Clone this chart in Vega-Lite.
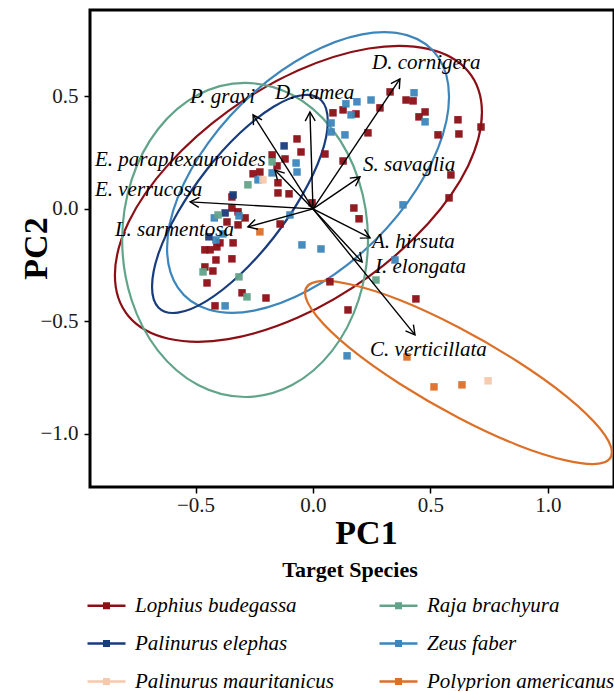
{
  "$schema": "https://vega.github.io/schema/vega-lite/v6.json",
  "width": 524,
  "height": 477,
  "autosize": {"type": "none"},
  "padding": {"left": 90, "top": 10, "right": 0, "bottom": 204},
  "background": "white",
  "config": {
    "view": {"stroke": "black", "strokeWidth": 3},
    "font": "Liberation Serif",
    "axis": {
      "grid": false,
      "domain": false,
      "tickColor": "black",
      "tickWidth": 1.5,
      "tickSize": 6,
      "labelFont": "Liberation Serif",
      "labelFontSize": 21,
      "labelColor": "#1a1a1a",
      "titleFont": "Liberation Serif",
      "titleFontSize": 34,
      "titleFontWeight": "bold",
      "titleColor": "black"
    },
    "legend": {
      "orient": "none",
      "legendX": -4,
      "legendY": 550,
      "columns": 2,
      "columnPadding": 40,
      "rowPadding": 7,
      "symbolType": "M-1,0H1M-0.12,-0.12H0.12V0.12H-0.12Z",
      "symbolSize": 1444,
      "symbolStrokeWidth": 2.5,
      "labelFont": "Liberation Serif",
      "labelFontStyle": "italic",
      "labelFontSize": 21,
      "labelColor": "black",
      "labelOffset": 8,
      "labelLimit": 400,
      "titleFont": "Liberation Serif",
      "titleFontSize": 22,
      "titleFontWeight": "bold",
      "titleColor": "black",
      "titleAnchor": "middle",
      "titlePadding": 3
    }
  },
  "datasets": {
    "scores": [
      {"species": "Lophius budegassa", "PC1": 0.328, "PC2": 0.520},
      {"species": "Lophius budegassa", "PC1": 0.396, "PC2": 0.484},
      {"species": "Lophius budegassa", "PC1": 0.426, "PC2": 0.480},
      {"species": "Lophius budegassa", "PC1": 0.477, "PC2": 0.431},
      {"species": "Lophius budegassa", "PC1": 0.451, "PC2": 0.409},
      {"species": "Lophius budegassa", "PC1": 0.617, "PC2": 0.396},
      {"species": "Lophius budegassa", "PC1": 0.715, "PC2": 0.364},
      {"species": "Lophius budegassa", "PC1": 0.621, "PC2": 0.333},
      {"species": "Lophius budegassa", "PC1": 0.532, "PC2": 0.329},
      {"species": "Lophius budegassa", "PC1": 0.285, "PC2": 0.449},
      {"species": "Lophius budegassa", "PC1": 0.183, "PC2": 0.422},
      {"species": "Lophius budegassa", "PC1": 0.128, "PC2": 0.440},
      {"species": "Lophius budegassa", "PC1": 0.085, "PC2": 0.427},
      {"species": "Lophius budegassa", "PC1": 0.234, "PC2": 0.338},
      {"species": "Lophius budegassa", "PC1": 0.051, "PC2": 0.244},
      {"species": "Lophius budegassa", "PC1": 0.128, "PC2": 0.213},
      {"species": "Lophius budegassa", "PC1": -0.068, "PC2": 0.311},
      {"species": "Lophius budegassa", "PC1": -0.051, "PC2": 0.253},
      {"species": "Lophius budegassa", "PC1": -0.119, "PC2": 0.222},
      {"species": "Lophius budegassa", "PC1": -0.153, "PC2": 0.191},
      {"species": "Lophius budegassa", "PC1": -0.149, "PC2": 0.116},
      {"species": "Lophius budegassa", "PC1": -0.149, "PC2": 0.071},
      {"species": "Lophius budegassa", "PC1": -0.102, "PC2": 0.067},
      {"species": "Lophius budegassa", "PC1": -0.004, "PC2": 0.027},
      {"species": "Lophius budegassa", "PC1": 0.587, "PC2": 0.151},
      {"species": "Lophius budegassa", "PC1": 0.579, "PC2": 0.049},
      {"species": "Lophius budegassa", "PC1": 0.174, "PC2": 0.004},
      {"species": "Lophius budegassa", "PC1": 0.196, "PC2": -0.044},
      {"species": "Lophius budegassa", "PC1": -0.174, "PC2": 0.240},
      {"species": "Lophius budegassa", "PC1": -0.255, "PC2": 0.156},
      {"species": "Lophius budegassa", "PC1": -0.226, "PC2": 0.164},
      {"species": "Lophius budegassa", "PC1": -0.345, "PC2": 0.053},
      {"species": "Lophius budegassa", "PC1": -0.345, "PC2": 0.004},
      {"species": "Lophius budegassa", "PC1": -0.319, "PC2": -0.013},
      {"species": "Lophius budegassa", "PC1": -0.366, "PC2": -0.058},
      {"species": "Lophius budegassa", "PC1": -0.289, "PC2": -0.040},
      {"species": "Lophius budegassa", "PC1": -0.140, "PC2": -0.067},
      {"species": "Lophius budegassa", "PC1": -0.319, "PC2": -0.071},
      {"species": "Lophius budegassa", "PC1": -0.340, "PC2": -0.151},
      {"species": "Lophius budegassa", "PC1": -0.460, "PC2": -0.182},
      {"species": "Lophius budegassa", "PC1": -0.438, "PC2": -0.182},
      {"species": "Lophius budegassa", "PC1": -0.409, "PC2": -0.169},
      {"species": "Lophius budegassa", "PC1": -0.396, "PC2": -0.151},
      {"species": "Lophius budegassa", "PC1": -0.413, "PC2": -0.227},
      {"species": "Lophius budegassa", "PC1": -0.345, "PC2": -0.222},
      {"species": "Lophius budegassa", "PC1": -0.460, "PC2": -0.258},
      {"species": "Lophius budegassa", "PC1": -0.426, "PC2": -0.276},
      {"species": "Lophius budegassa", "PC1": -0.451, "PC2": -0.329},
      {"species": "Lophius budegassa", "PC1": -0.302, "PC2": -0.373},
      {"species": "Lophius budegassa", "PC1": -0.200, "PC2": -0.396},
      {"species": "Lophius budegassa", "PC1": -0.417, "PC2": -0.431},
      {"species": "Lophius budegassa", "PC1": 0.072, "PC2": -0.324},
      {"species": "Lophius budegassa", "PC1": 0.149, "PC2": -0.449},
      {"species": "Lophius budegassa", "PC1": 0.438, "PC2": -0.400},
      {"species": "Zeus faber", "PC1": 0.430, "PC2": 0.516},
      {"species": "Zeus faber", "PC1": 0.477, "PC2": 0.387},
      {"species": "Zeus faber", "PC1": 0.140, "PC2": 0.467},
      {"species": "Zeus faber", "PC1": 0.187, "PC2": 0.476},
      {"species": "Zeus faber", "PC1": 0.247, "PC2": 0.484},
      {"species": "Zeus faber", "PC1": 0.162, "PC2": 0.418},
      {"species": "Zeus faber", "PC1": 0.077, "PC2": 0.382},
      {"species": "Zeus faber", "PC1": 0.077, "PC2": 0.342},
      {"species": "Zeus faber", "PC1": 0.136, "PC2": 0.329},
      {"species": "Zeus faber", "PC1": 0.383, "PC2": 0.018},
      {"species": "Zeus faber", "PC1": -0.072, "PC2": 0.204},
      {"species": "Zeus faber", "PC1": -0.068, "PC2": 0.164},
      {"species": "Zeus faber", "PC1": -0.174, "PC2": 0.160},
      {"species": "Zeus faber", "PC1": -0.234, "PC2": 0.129},
      {"species": "Zeus faber", "PC1": -0.315, "PC2": -0.031},
      {"species": "Zeus faber", "PC1": -0.098, "PC2": -0.027},
      {"species": "Zeus faber", "PC1": -0.420, "PC2": -0.040},
      {"species": "Zeus faber", "PC1": -0.383, "PC2": -0.111},
      {"species": "Zeus faber", "PC1": -0.374, "PC2": -0.431},
      {"species": "Zeus faber", "PC1": -0.047, "PC2": -0.160},
      {"species": "Zeus faber", "PC1": 0.034, "PC2": -0.178},
      {"species": "Zeus faber", "PC1": 0.145, "PC2": -0.653},
      {"species": "Zeus faber", "PC1": 0.349, "PC2": -0.227},
      {"species": "Zeus faber", "PC1": -0.413, "PC2": -0.138},
      {"species": "Palinurus elephas", "PC1": -0.123, "PC2": 0.280},
      {"species": "Palinurus elephas", "PC1": -0.340, "PC2": 0.062},
      {"species": "Palinurus elephas", "PC1": -0.374, "PC2": -0.018},
      {"species": "Palinurus elephas", "PC1": -0.443, "PC2": -0.124},
      {"species": "Raja brachyura", "PC1": -0.277, "PC2": 0.107},
      {"species": "Raja brachyura", "PC1": -0.174, "PC2": 0.209},
      {"species": "Raja brachyura", "PC1": -0.404, "PC2": -0.027},
      {"species": "Raja brachyura", "PC1": -0.468, "PC2": -0.280},
      {"species": "Raja brachyura", "PC1": -0.315, "PC2": -0.302},
      {"species": "Raja brachyura", "PC1": -0.281, "PC2": -0.391},
      {"species": "Raja brachyura", "PC1": 0.268, "PC2": -0.316},
      {"species": "Palinurus mauritanicus", "PC1": -0.213, "PC2": 0.129},
      {"species": "Palinurus mauritanicus", "PC1": 0.745, "PC2": -0.764},
      {"species": "Polyprion americanus", "PC1": -0.226, "PC2": -0.102},
      {"species": "Polyprion americanus", "PC1": 0.400, "PC2": -0.658},
      {"species": "Polyprion americanus", "PC1": 0.515, "PC2": -0.791},
      {"species": "Polyprion americanus", "PC1": 0.634, "PC2": -0.782}
    ],
    "ellipses": [
      {"species": "Lophius budegassa", "k": 0, "x": 0.719, "y": 0.429},
      {"species": "Lophius budegassa", "k": 1, "x": 0.660, "y": 0.612},
      {"species": "Lophius budegassa", "k": 2, "x": 0.490, "y": 0.711},
      {"species": "Lophius budegassa", "k": 3, "x": 0.237, "y": 0.713},
      {"species": "Lophius budegassa", "k": 4, "x": -0.062, "y": 0.616},
      {"species": "Lophius budegassa", "k": 5, "x": -0.361, "y": 0.435},
      {"species": "Lophius budegassa", "k": 6, "x": -0.614, "y": 0.199},
      {"species": "Lophius budegassa", "k": 7, "x": -0.784, "y": -0.057},
      {"species": "Lophius budegassa", "k": 8, "x": -0.843, "y": -0.295},
      {"species": "Lophius budegassa", "k": 9, "x": -0.784, "y": -0.478},
      {"species": "Lophius budegassa", "k": 10, "x": -0.614, "y": -0.577},
      {"species": "Lophius budegassa", "k": 11, "x": -0.361, "y": -0.579},
      {"species": "Lophius budegassa", "k": 12, "x": -0.062, "y": -0.482},
      {"species": "Lophius budegassa", "k": 13, "x": 0.237, "y": -0.301},
      {"species": "Lophius budegassa", "k": 14, "x": 0.490, "y": -0.065},
      {"species": "Lophius budegassa", "k": 15, "x": 0.660, "y": 0.191},
      {"species": "Zeus faber", "k": 0, "x": 0.579, "y": 0.499},
      {"species": "Zeus faber", "k": 1, "x": 0.533, "y": 0.674},
      {"species": "Zeus faber", "k": 2, "x": 0.403, "y": 0.771},
      {"species": "Zeus faber", "k": 3, "x": 0.209, "y": 0.776},
      {"species": "Zeus faber", "k": 4, "x": -0.021, "y": 0.687},
      {"species": "Zeus faber", "k": 5, "x": -0.251, "y": 0.518},
      {"species": "Zeus faber", "k": 6, "x": -0.445, "y": 0.295},
      {"species": "Zeus faber", "k": 7, "x": -0.575, "y": 0.052},
      {"species": "Zeus faber", "k": 8, "x": -0.621, "y": -0.175},
      {"species": "Zeus faber", "k": 9, "x": -0.575, "y": -0.350},
      {"species": "Zeus faber", "k": 10, "x": -0.445, "y": -0.447},
      {"species": "Zeus faber", "k": 11, "x": -0.251, "y": -0.452},
      {"species": "Zeus faber", "k": 12, "x": -0.021, "y": -0.363},
      {"species": "Zeus faber", "k": 13, "x": 0.209, "y": -0.194},
      {"species": "Zeus faber", "k": 14, "x": 0.403, "y": 0.029},
      {"species": "Zeus faber", "k": 15, "x": 0.533, "y": 0.272},
      {"species": "Raja brachyura", "k": 0, "x": 0.234, "y": -0.138},
      {"species": "Raja brachyura", "k": 1, "x": 0.194, "y": 0.129},
      {"species": "Raja brachyura", "k": 2, "x": 0.081, "y": 0.355},
      {"species": "Raja brachyura", "k": 3, "x": -0.089, "y": 0.507},
      {"species": "Raja brachyura", "k": 4, "x": -0.289, "y": 0.560},
      {"species": "Raja brachyura", "k": 5, "x": -0.489, "y": 0.507},
      {"species": "Raja brachyura", "k": 6, "x": -0.659, "y": 0.355},
      {"species": "Raja brachyura", "k": 7, "x": -0.772, "y": 0.129},
      {"species": "Raja brachyura", "k": 8, "x": -0.812, "y": -0.138},
      {"species": "Raja brachyura", "k": 9, "x": -0.772, "y": -0.405},
      {"species": "Raja brachyura", "k": 10, "x": -0.659, "y": -0.631},
      {"species": "Raja brachyura", "k": 11, "x": -0.489, "y": -0.783},
      {"species": "Raja brachyura", "k": 12, "x": -0.289, "y": -0.836},
      {"species": "Raja brachyura", "k": 13, "x": -0.089, "y": -0.783},
      {"species": "Raja brachyura", "k": 14, "x": 0.081, "y": -0.631},
      {"species": "Raja brachyura", "k": 15, "x": 0.194, "y": -0.405},
      {"species": "Palinurus elephas", "k": 0, "x": 0.063, "y": 0.390},
      {"species": "Palinurus elephas", "k": 1, "x": 0.035, "y": 0.483},
      {"species": "Palinurus elephas", "k": 2, "x": -0.047, "y": 0.505},
      {"species": "Palinurus elephas", "k": 3, "x": -0.168, "y": 0.454},
      {"species": "Palinurus elephas", "k": 4, "x": -0.311, "y": 0.337},
      {"species": "Palinurus elephas", "k": 5, "x": -0.454, "y": 0.172},
      {"species": "Palinurus elephas", "k": 6, "x": -0.575, "y": -0.015},
      {"species": "Palinurus elephas", "k": 7, "x": -0.657, "y": -0.197},
      {"species": "Palinurus elephas", "k": 8, "x": -0.685, "y": -0.346},
      {"species": "Palinurus elephas", "k": 9, "x": -0.657, "y": -0.439},
      {"species": "Palinurus elephas", "k": 10, "x": -0.575, "y": -0.461},
      {"species": "Palinurus elephas", "k": 11, "x": -0.454, "y": -0.410},
      {"species": "Palinurus elephas", "k": 12, "x": -0.311, "y": -0.293},
      {"species": "Palinurus elephas", "k": 13, "x": -0.168, "y": -0.128},
      {"species": "Palinurus elephas", "k": 14, "x": -0.047, "y": 0.059},
      {"species": "Palinurus elephas", "k": 15, "x": 0.035, "y": 0.241},
      {"species": "Polyprion americanus", "k": 0, "x": 1.272, "y": -1.081},
      {"species": "Polyprion americanus", "k": 1, "x": 1.222, "y": -0.977},
      {"species": "Polyprion americanus", "k": 2, "x": 1.081, "y": -0.835},
      {"species": "Polyprion americanus", "k": 3, "x": 0.869, "y": -0.677},
      {"species": "Polyprion americanus", "k": 4, "x": 0.619, "y": -0.526},
      {"species": "Polyprion americanus", "k": 5, "x": 0.369, "y": -0.405},
      {"species": "Polyprion americanus", "k": 6, "x": 0.157, "y": -0.335},
      {"species": "Polyprion americanus", "k": 7, "x": 0.016, "y": -0.323},
      {"species": "Polyprion americanus", "k": 8, "x": -0.034, "y": -0.373},
      {"species": "Polyprion americanus", "k": 9, "x": 0.016, "y": -0.477},
      {"species": "Polyprion americanus", "k": 10, "x": 0.157, "y": -0.619},
      {"species": "Polyprion americanus", "k": 11, "x": 0.369, "y": -0.777},
      {"species": "Polyprion americanus", "k": 12, "x": 0.619, "y": -0.928},
      {"species": "Polyprion americanus", "k": 13, "x": 0.869, "y": -1.049},
      {"species": "Polyprion americanus", "k": 14, "x": 1.081, "y": -1.119},
      {"species": "Polyprion americanus", "k": 15, "x": 1.222, "y": -1.131}
    ],
    "loadings": [
      {"name": "P. gravi", "x": -0.255, "y": 0.418, "lx": -0.523, "ly": 0.498},
      {"name": "D. ramea", "x": -0.013, "y": 0.431, "lx": -0.162, "ly": 0.516},
      {"name": "D. cornigera", "x": 0.370, "y": 0.578, "lx": 0.251, "ly": 0.649},
      {"name": "S. savaglia", "x": 0.200, "y": 0.142, "lx": 0.213, "ly": 0.196},
      {"name": "E. paraplexauroides", "x": -0.162, "y": 0.173, "lx": -0.928, "ly": 0.218},
      {"name": "E. verrucosa", "x": -0.523, "y": 0.031, "lx": -0.928, "ly": 0.084},
      {"name": "L. sarmentosa", "x": -0.277, "y": -0.080, "lx": -0.843, "ly": -0.093},
      {"name": "A. hirsuta", "x": 0.243, "y": -0.129, "lx": 0.251, "ly": -0.147},
      {"name": "I. elongata", "x": 0.209, "y": -0.236, "lx": 0.264, "ly": -0.258},
      {"name": "C. verticillata", "x": 0.434, "y": -0.560, "lx": 0.243, "ly": -0.627}
    ]
  },
  "layer": [
    {
      "data": {"name": "ellipses"},
      "mark": {"type": "line", "interpolate": "cardinal-closed", "strokeWidth": 2.2},
      "encoding": {
        "x": {"field": "x", "type": "quantitative", "scale": {"domain": [-0.949, 1.281], "nice": false, "zero": false},
              "axis": {"values": [-0.5, 0, 0.5, 1], "format": ".1f", "title": "PC1", "labelPadding": 1, "titleX": 276, "titleY": 56, "titleBaseline": "alphabetic"}},
        "y": {"field": "y", "type": "quantitative", "scale": {"domain": [-1.236, 0.884], "nice": false, "zero": false},
              "axis": {"values": [-1, -0.5, 0, 0.5], "format": ".1f", "title": "PC2", "labelPadding": 6, "titleX": -44, "titleY": 238, "titleBaseline": "alphabetic"}},
        "color": {"field": "species", "type": "nominal",
                  "scale": {"domain": ["Lophius budegassa", "Palinurus elephas", "Palinurus mauritanicus", "Raja brachyura", "Zeus faber", "Polyprion americanus"],
                            "range": ["#8C0F16", "#183C7C", "#F6C8AC", "#62A48A", "#3D86BC", "#DC7028"]},
                  "legend": {"title": "Target Species", "encode": {"symbols": {"update": {"fill": {"scale": "color", "field": "value"}, "stroke": {"scale": "color", "field": "value"}, "opacity": {"value": 1}}}}}},
        "order": {"field": "k", "type": "quantitative"}
      }
    },
    {
      "data": {"name": "scores"},
      "mark": {"type": "point", "shape": "square", "filled": true, "size": 56, "opacity": 0.95},
      "encoding": {
        "x": {"field": "PC1", "type": "quantitative", "scale": {"domain": [-0.949, 1.281], "nice": false, "zero": false}},
        "y": {"field": "PC2", "type": "quantitative", "scale": {"domain": [-1.236, 0.884], "nice": false, "zero": false}},
        "color": {"field": "species", "type": "nominal",
                  "scale": {"domain": ["Lophius budegassa", "Palinurus elephas", "Palinurus mauritanicus", "Raja brachyura", "Zeus faber", "Polyprion americanus"],
                            "range": ["#8C0F16", "#183C7C", "#F6C8AC", "#62A48A", "#3D86BC", "#DC7028"]},
                  "legend": {"title": "Target Species", "encode": {"symbols": {"update": {"fill": {"scale": "color", "field": "value"}, "stroke": {"scale": "color", "field": "value"}, "opacity": {"value": 1}}}}}}
      }
    },
    {
      "data": {"name": "loadings"},
      "mark": {"type": "rule", "color": "black", "strokeWidth": 1.4},
      "encoding": {
        "x": {"field": "x", "type": "quantitative", "scale": {"domain": [-0.949, 1.281], "nice": false, "zero": false}},
        "y": {"field": "y", "type": "quantitative", "scale": {"domain": [-1.236, 0.884], "nice": false, "zero": false}},
        "x2": {"datum": 0},
        "y2": {"datum": 0}
      }
    },
    {
      "data": {"name": "loadings"},
      "transform": [{"calculate": "atan2(datum.x, datum.y) * 180 / PI", "as": "heading"}],
      "mark": {"type": "point", "shape": "M-0.5,0.9L0,0L0.5,0.9", "filled": false, "stroke": "black", "strokeWidth": 1.4, "size": 400, "opacity": 1},
      "encoding": {
        "x": {"field": "x", "type": "quantitative", "scale": {"domain": [-0.949, 1.281], "nice": false, "zero": false}},
        "y": {"field": "y", "type": "quantitative", "scale": {"domain": [-1.236, 0.884], "nice": false, "zero": false}},
        "angle": {"field": "heading", "type": "quantitative", "scale": null}
      }
    },
    {
      "data": {"name": "loadings"},
      "mark": {"type": "text", "align": "left", "baseline": "middle", "font": "Liberation Serif", "fontStyle": "italic", "fontSize": 21, "color": "black"},
      "encoding": {
        "x": {"field": "lx", "type": "quantitative", "scale": {"domain": [-0.949, 1.281], "nice": false, "zero": false}},
        "y": {"field": "ly", "type": "quantitative", "scale": {"domain": [-1.236, 0.884], "nice": false, "zero": false}},
        "text": {"field": "name", "type": "nominal"}
      }
    }
  ]
}
